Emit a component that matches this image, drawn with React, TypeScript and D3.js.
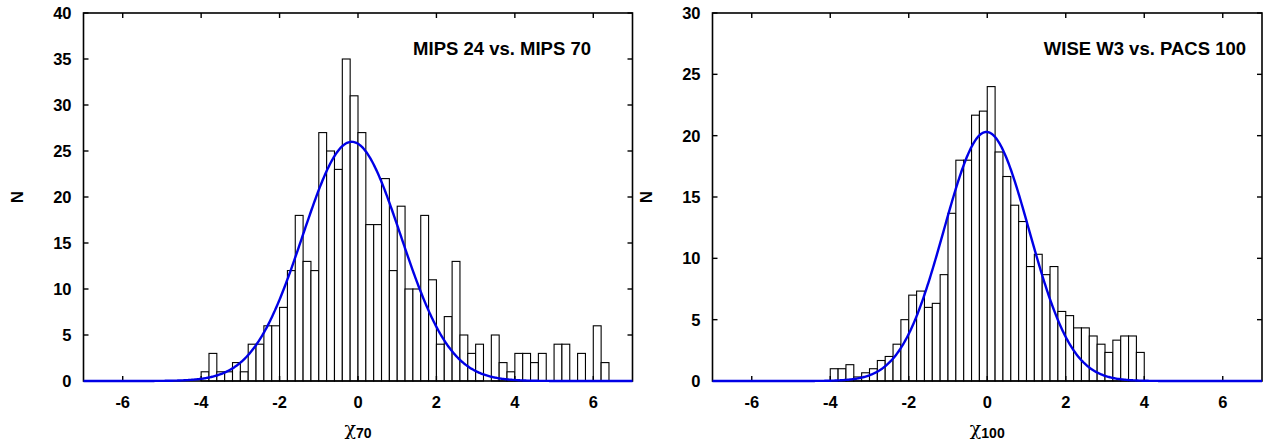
import React from "react";
import * as d3 from "d3";

// ---- data ----
const binWidth = 0.2;
const leftBinStarts = d3.range(52).map((i) => -4 + i * 0.2);
const leftCounts = [
  1, 3, 1, 1, 2, 1, 4, 4, 6, 6,
  8, 12, 18, 13, 12, 27, 25, 23, 35, 31,
  27, 17, 17, 22, 12, 19, 10, 10, 18, 11,
  4, 7, 13, 5, 3, 4, 0, 5, 2, 1,
  3, 3, 2, 3, 0, 4, 4, 0, 3, 0,
  6, 2,
];
const rightBinStarts = d3.range(40).map((i) => -4 + i * 0.2);
const rightCounts = [
  1, 1, 1.33, 0.33, 0.67, 1, 1.67, 2, 3, 5,
  7, 7.33, 6, 6.33, 8.67, 13.67, 18, 18, 21.67, 22,
  24, 18.67, 16.67, 14.33, 13, 9.33, 10.33, 8.67, 9.33, 5.67,
  5.33, 4.33, 4.33, 3.67, 3, 2.33, 3.33, 3.67, 3.67, 2.33,
];
// Gaussian fit parameters
const leftFit = { amp: 26.0, mu: -0.16, sigma: 1.253 };
const rightFit = { amp: 20.3, mu: -0.02, sigma: 1.085 };

const xTicks = [-6, -4, -2, 0, 2, 4, 6];
const leftYTicks = [0, 5, 10, 15, 20, 25, 30, 35, 40];
const rightYTicks = [0, 5, 10, 15, 20, 25, 30];
const leftTitle = "MIPS 24 vs. MIPS 70";
const rightTitle = "WISE W3 vs. PACS 100";
const leftSub = "70";
const rightSub = "100";

const FONT = "'Liberation Sans', Arial, Helvetica, sans-serif";

type PanelProps = {
  x0: number;
  x1: number;
  yMax: number;
  yTicks: number[];
  starts: number[];
  counts: number[];
  fit: { amp: number; mu: number; sigma: number };
  title: string;
  titleRight: number;
  sub: string;
  nX: number;
};

function Panel(p: PanelProps) {
  const top = 13;
  const bottom = 381;
  const x = d3.scaleLinear().domain([-7, 7]).range([p.x0, p.x1]);
  const y = d3.scaleLinear().domain([0, p.yMax]).range([bottom, top]);
  const xs = d3.range(-7, 7.0001, 0.02);
  const line = d3
    .line<number>()
    .x((v) => x(v))
    .y((v) =>
      y(p.fit.amp * Math.exp(-((v - p.fit.mu) ** 2) / (2 * p.fit.sigma ** 2)))
    );
  const tl = 5;
  const cx = (p.x0 + p.x1) / 2;
  return (
    <g>
      {p.starts.map((s, i) =>
        p.counts[i] > 0 ? (
          <rect
            key={i}
            x={x(s)}
            y={y(p.counts[i])}
            width={x(s + binWidth) - x(s)}
            height={bottom - y(p.counts[i])}
            fill="#fff"
            stroke="#000"
            strokeWidth={1.1}
          />
        ) : null
      )}
      {/* frame */}
      <rect
        x={p.x0}
        y={top}
        width={p.x1 - p.x0}
        height={bottom - top}
        fill="none"
        stroke="#000"
        strokeWidth={1.6}
      />
      {xTicks.map((t) => (
        <g key={"xt" + t}>
          <line x1={x(t)} x2={x(t)} y1={bottom} y2={bottom - tl} stroke="#000" strokeWidth={1.4} />
          <line x1={x(t)} x2={x(t)} y1={top} y2={top + tl} stroke="#000" strokeWidth={1.4} />
          <text
            x={x(t)}
            y={408}
            textAnchor="middle"
            fontFamily={FONT}
            fontWeight="bold"
            fontSize={16.5}
          >
            {t}
          </text>
        </g>
      ))}
      {p.yTicks.map((t) => (
        <g key={"yt" + t}>
          <line x1={p.x0} x2={p.x0 + tl} y1={y(t)} y2={y(t)} stroke="#000" strokeWidth={1.4} />
          <line x1={p.x1} x2={p.x1 - tl} y1={y(t)} y2={y(t)} stroke="#000" strokeWidth={1.4} />
          <text
            x={p.x0 - 12}
            y={y(t)}
            dy="0.36em"
            textAnchor="end"
            fontFamily={FONT}
            fontWeight="bold"
            fontSize={16.5}
          >
            {t}
          </text>
        </g>
      ))}
      <path d={line(xs) || ""} fill="none" stroke="#0000e6" strokeWidth={2.4} />
      <text
        x={p.titleRight}
        y={55}
        textAnchor="end"
        fontFamily={FONT}
        fontWeight="bold"
        fontSize={18.5}
      >
        {p.title}
      </text>
      <text
        transform={`translate(${p.nX},${(top + bottom) / 2}) rotate(-90)`}
        textAnchor="middle"
        dy="0.36em"
        fontFamily={FONT}
        fontWeight="bold"
        fontSize={17}
      >
        N
      </text>
      <text x={cx} y={435} textAnchor="middle" fontFamily={FONT}>
        <tspan fontSize={19} fontFamily="'DejaVu Serif', serif" fontStyle="normal">
          χ
        </tspan>
        <tspan fontSize={14} fontWeight="bold" dy={3}>
          {p.sub}
        </tspan>
      </text>
    </g>
  );
}

export default function App() {
  return (
    <svg
      width={1263}
      height={443}
      style={{ position: "absolute", left: 0, top: 0, background: "#fff" }}
    >
      <rect width={1263} height={443} fill="#fff" />
      <Panel
        x0={83.5}
        x1={632.5}
        yMax={40}
        yTicks={leftYTicks}
        starts={leftBinStarts}
        counts={leftCounts}
        fit={leftFit}
        title={leftTitle}
        titleRight={591}
        sub={leftSub}
        nX={17}
      />
      <Panel
        x0={712.5}
        x1={1262}
        yMax={30}
        yTicks={rightYTicks}
        starts={rightBinStarts}
        counts={rightCounts}
        fit={rightFit}
        title={rightTitle}
        titleRight={1246}
        sub={rightSub}
        nX={646}
      />
    </svg>
  );
}
